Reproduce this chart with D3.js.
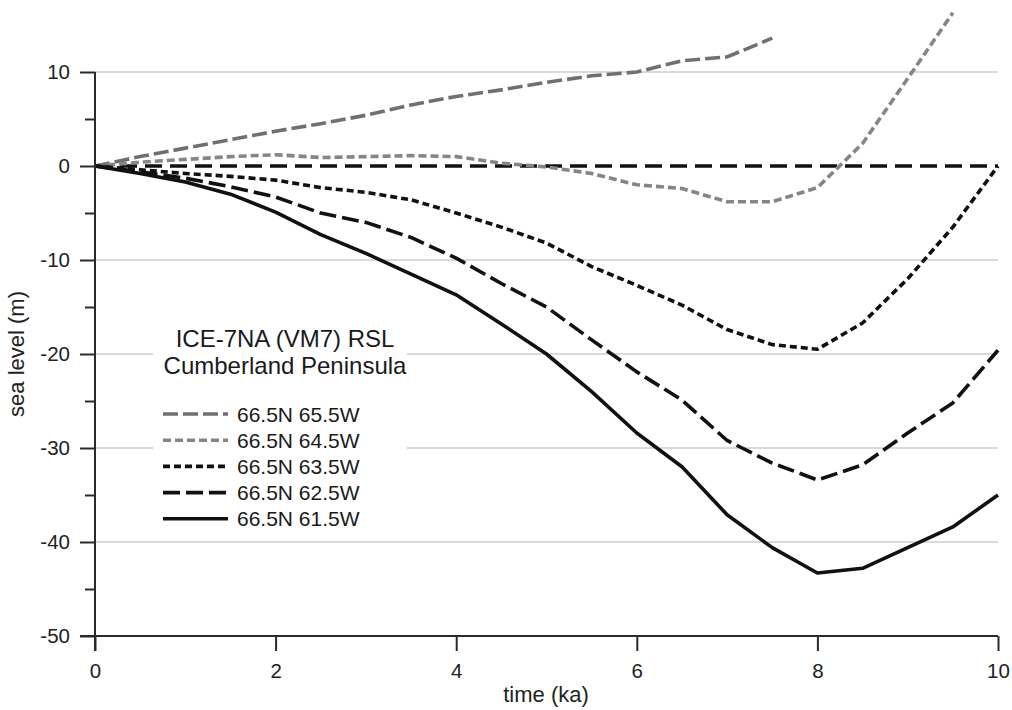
<!DOCTYPE html>
<html>
<head>
<meta charset="utf-8">
<script src="https://cdn.jsdelivr.net/npm/d3@7/dist/d3.min.js"></script>
<style>
  html, body { margin: 0; padding: 0; background: #fff; }
  svg { display: block; font-family: "Liberation Sans", Arial, sans-serif; }
</style>
</head>
<body>
<svg id="chart" width="1012" height="710"></svg>
<script>
// ---- data (time in ka, sea level in m) ----
const times = [0, 0.5, 1, 1.5, 2, 2.5, 3, 3.5, 4, 4.5, 5, 5.5, 6, 6.5, 7, 7.5, 8, 8.5, 9, 9.5, 10];

const s655W = [0, 1.0, 1.9, 2.8, 3.7, 4.5, 5.4, 6.5, 7.4, 8.1, 8.9, 9.6, 10.0, 11.2, 11.6, 13.6];
const s645W = [0, 0.4, 0.7, 1.0, 1.2, 0.9, 1.0, 1.1, 1.0, 0.3, -0.1, -0.8, -2.0, -2.4, -3.8, -3.8, -2.3, 2.4, 9.3, 16.3];
const s635W = [0, -0.4, -0.8, -1.1, -1.5, -2.3, -2.8, -3.6, -5.0, -6.5, -8.2, -10.7, -12.7, -14.8, -17.4, -19.0, -19.5, -16.7, -12.0, -6.5, 0];
const s625W = [0, -0.6, -1.3, -2.2, -3.3, -5.0, -6.0, -7.6, -9.8, -12.5, -15.0, -18.5, -21.9, -24.9, -29.2, -31.6, -33.4, -31.8, -28.4, -25.2, -19.6];
const s615W = [0, -0.8, -1.7, -3.0, -4.9, -7.3, -9.3, -11.5, -13.7, -16.8, -20.0, -24.0, -28.4, -32.0, -37.1, -40.6, -43.3, -42.8, -40.6, -38.4, -35.0];

const zeroTimes = [0, 10];
const zeroValues = [0, 0];

const seriesNames = ["66.5N 65.5W", "66.5N 64.5W", "66.5N 63.5W", "66.5N 62.5W", "66.5N 61.5W"];
const xTicks = [0, 2, 4, 6, 8, 10];
const yTicks = [10, 0, -10, -20, -30, -40, -50];
const yMinorTicks = [5, -5, -15, -25, -35, -45];
const gridValues = [10, -10, -20, -30, -40];
const titleLines = ["ICE-7NA (VM7) RSL", "Cumberland Peninsula"];

// ---- styles ----
const styles = [
  { color: "#707070", dash: "15,5" },
  { color: "#858585", dash: "8,4" },
  { color: "#111111", dash: "7,4" },
  { color: "#111111", dash: "17,6" },
  { color: "#111111", dash: null }
];
const seriesData = [s655W, s645W, s635W, s625W, s615W];

const svg = d3.select("#chart");
const x = d3.scaleLinear().domain([0, 10]).range([95, 998]);
const y = d3.scaleLinear().domain([-50, 10]).range([636, 72]);

// gridlines
svg.append("g").selectAll("line").data(gridValues).join("line")
  .attr("x1", x(0)).attr("x2", x(10))
  .attr("y1", d => y(d)).attr("y2", d => y(d))
  .attr("stroke", "#b5b5b5").attr("stroke-width", 1.2);

// legend background (covers gridlines)
svg.append("rect")
  .attr("x", 153).attr("y", 312).attr("width", 254).attr("height", 222)
  .attr("fill", "#fff");

const line = d3.line().x(d => x(d[0])).y(d => y(d[1]));

// zero reference line
svg.append("path")
  .attr("d", line(zeroTimes.map((t, i) => [t, zeroValues[i]])))
  .attr("fill", "none").attr("stroke", "#111").attr("stroke-width", 3.5)
  .attr("stroke-dasharray", "17,8");

// series
seriesData.forEach((vals, i) => {
  const pts = vals.map((v, j) => [times[j], v]);
  svg.append("path")
    .attr("d", line(pts))
    .attr("fill", "none")
    .attr("stroke", styles[i].color)
    .attr("stroke-width", 3.6)
    .attr("stroke-linejoin", "round")
    .attr("stroke-dasharray", styles[i].dash);
});

// axes
const axisColor = "#2a2a2a";
const fmt = d => String(d);
const yAxis = d3.axisLeft(y).tickValues(yTicks).tickSize(15).tickFormat(fmt).tickPadding(8);
const gy = svg.append("g").attr("transform", `translate(${x(0)},0)`).call(yAxis);
gy.select(".domain").remove();
gy.append("line").attr("x1", 0).attr("x2", 0).attr("y1", y(10)).attr("y2", y(-50) + 15)
  .attr("stroke", axisColor).attr("stroke-width", 2);
gy.selectAll(".tick line").attr("stroke", axisColor).attr("stroke-width", 2);
gy.selectAll(".tick text").attr("font-size", 20.5).attr("fill", "#222")
  .attr("font-family", "'Liberation Sans', Arial, sans-serif").attr("dx", "-2");

const yMinor = d3.axisLeft(y).tickValues(yMinorTicks).tickSize(10).tickFormat("");
const gym = svg.append("g").attr("transform", `translate(${x(0)},0)`).call(yMinor);
gym.select(".domain").remove();
gym.selectAll(".tick line").attr("stroke", axisColor).attr("stroke-width", 2);

const xAxis = d3.axisBottom(x).tickValues(xTicks).tickSize(15).tickFormat(fmt).tickPadding(12);
const gx = svg.append("g").attr("transform", `translate(0,${y(-50)})`).call(xAxis);
gx.select(".domain").remove();
gx.append("line").attr("x1", x(0) - 15).attr("x2", x(10)).attr("y1", 0).attr("y2", 0)
  .attr("stroke", axisColor).attr("stroke-width", 2);
gx.selectAll(".tick line").attr("stroke", axisColor).attr("stroke-width", 2);
gx.selectAll(".tick text").attr("font-size", 20.5).attr("fill", "#222")
  .attr("font-family", "'Liberation Sans', Arial, sans-serif");

// axis titles
svg.append("text")
  .attr("x", 546).attr("y", 702)
  .attr("text-anchor", "middle").attr("font-size", 22).attr("fill", "#222")
  .text("time (ka)");
svg.append("text")
  .attr("transform", `translate(24,354) rotate(-90)`)
  .attr("text-anchor", "middle").attr("font-size", 22).attr("fill", "#222")
  .text("sea level (m)");

// legend
const lg = svg.append("g");
lg.selectAll("text.title").data(titleLines).join("text")
  .attr("class", "title")
  .attr("x", 285).attr("y", (d, i) => 347 + i * 27)
  .attr("text-anchor", "middle").attr("font-size", 24).attr("fill", "#1a1a1a")
  .text(d => d);

seriesNames.forEach((name, i) => {
  const yy = 414 + i * 26.2;
  lg.append("line")
    .attr("x1", 163).attr("x2", 228).attr("y1", yy).attr("y2", yy)
    .attr("stroke", styles[i].color).attr("stroke-width", 3.6)
    .attr("stroke-dasharray", styles[i].dash);
  lg.append("text")
    .attr("x", 237).attr("y", yy + 7.5)
    .attr("font-size", 21).attr("fill", "#1a1a1a")
    .text(name);
});
</script>
</body>
</html>
